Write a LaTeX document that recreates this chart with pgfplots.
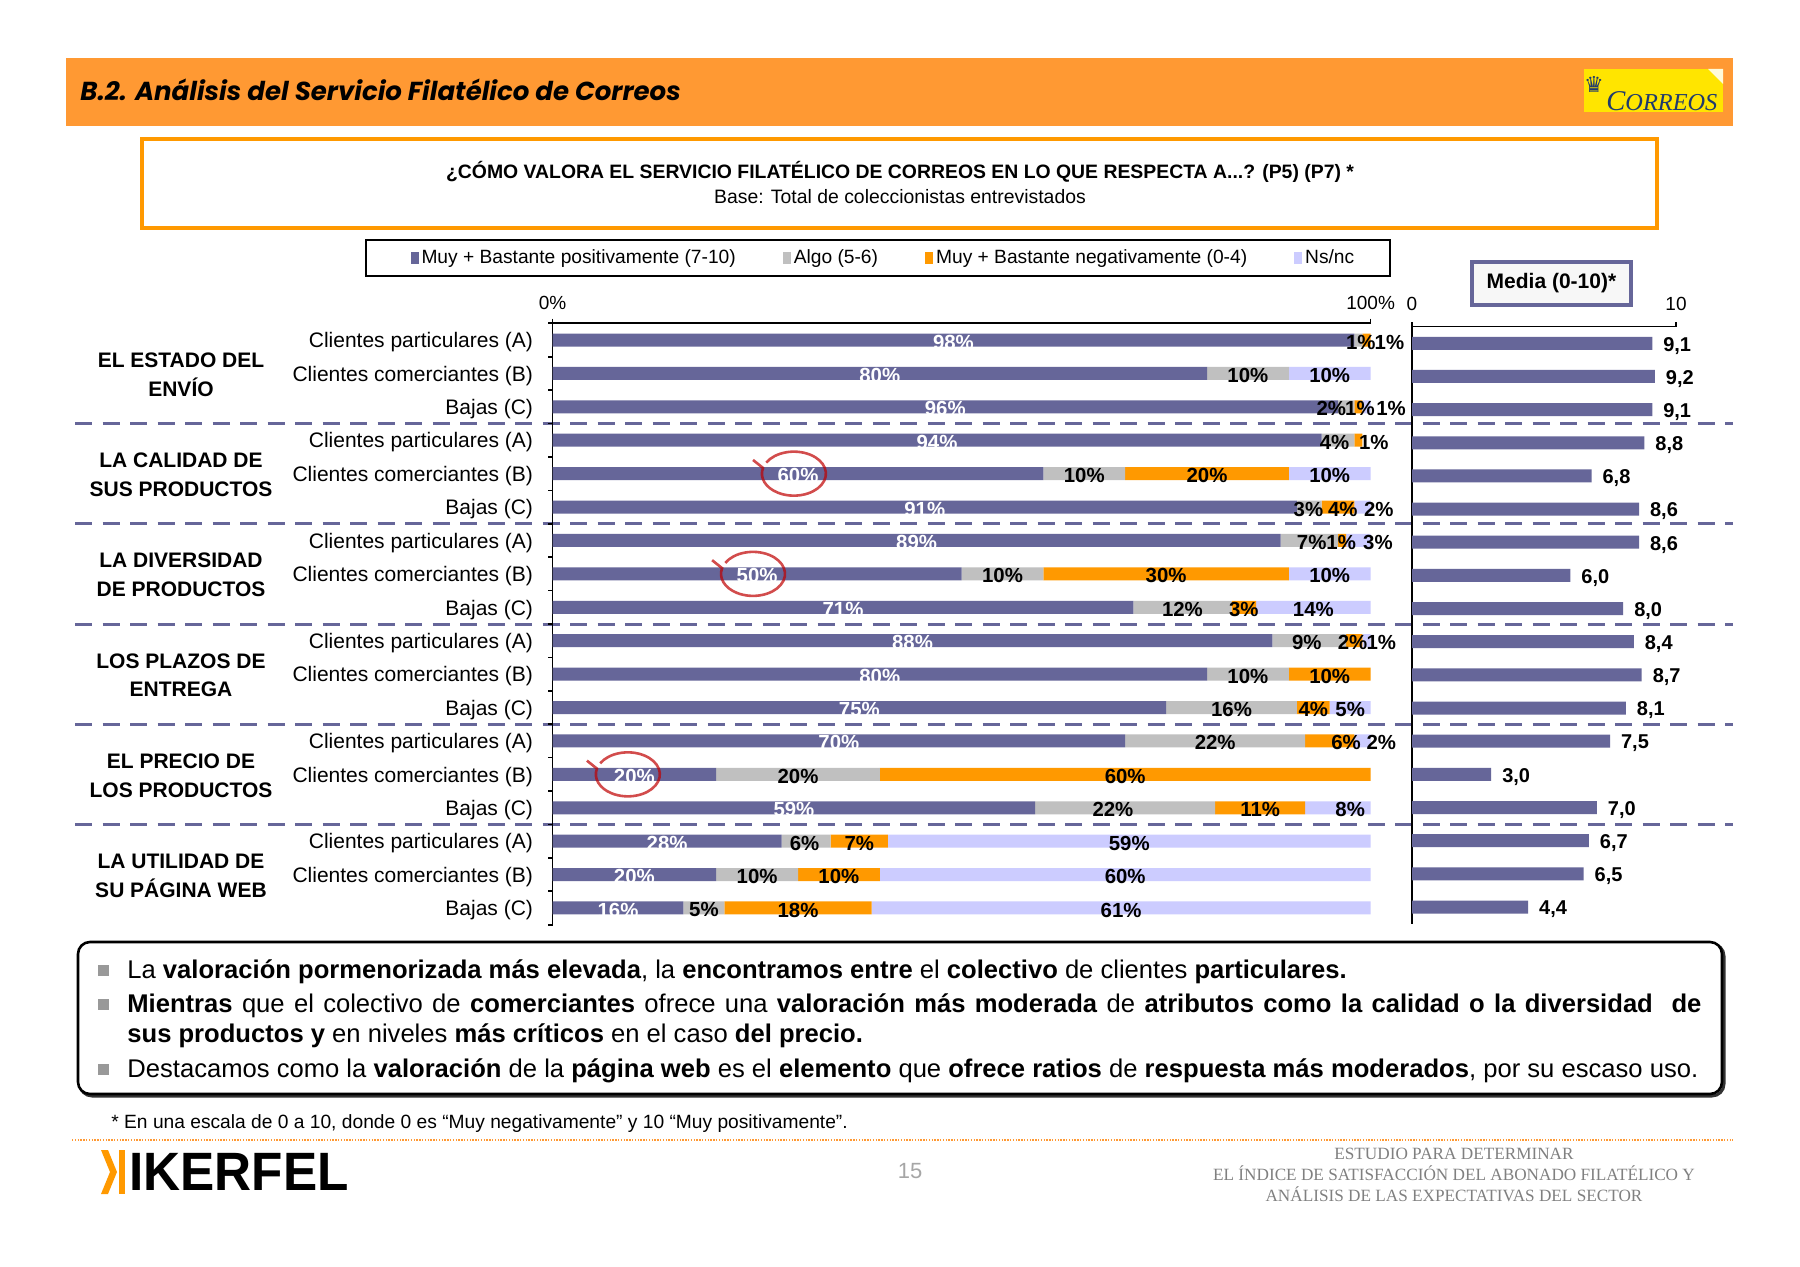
\documentclass[border=0pt]{standalone}
\usepackage{fontspec}
\setmainfont{Liberation Sans}
\newfontfamily\headfont{Poppins}
\newfontfamily\serifft{Liberation Serif}
\newfontfamily\symfont{DejaVu Sans}
\usepackage{pgfplots}
\pgfplotsset{compat=1.18}
\definecolor{cpos}{HTML}{666699}
\definecolor{calgo}{HTML}{C0C0C0}
\definecolor{cneg}{HTML}{FF9900}
\definecolor{cns}{HTML}{CCCCFF}
\definecolor{hband}{HTML}{FF9933}
\definecolor{cyell}{HTML}{FFE500}
\definecolor{cblue}{HTML}{1F3A6E}
\newcommand{\fs}[2]{\fontsize{#1}{#2}\selectfont}
\tikzset{
  wl/.style={text=white, font=\bfseries\fs{10.2}{12}, inner sep=0pt, yshift=-1pt},
  bl/.style={text=black, font=\bfseries\fs{10.2}{12}, inner sep=0pt, yshift=-1pt},
  circ/.style={draw=red!75!black, opacity=0.7, line width=1.3pt},
}
\pgfplotsset{
  chartbox/.style={
    at={(276.3pt,-161.65pt)}, anchor=north west,
    scale only axis, width=409pt, height=300.7pt,
    xmin=0, xmax=100, ymin=-17.5, ymax=0.5, clip=false,
  },
}
\begin{document}
\begin{tikzpicture}
\begin{scope}[x=0.5pt,y=-0.5pt]
\path[use as bounding box, fill=white] (0,0) rectangle (1800,1267);
% header band
\fill[hband] (66,58) rectangle (1733,126);
\node[anchor=base west, inner sep=0pt, font=\headfont\bfseries\itshape\fs{13}{15}] at (80,101) {B.2. Análisis del Servicio Filatélico de Correos};
% Correos logo
\fill[cyell] (1584,69) rectangle (1723,112);
\fill[white!85!cyell] (1708,69) -- (1723,69) -- (1723,84) -- cycle;
\node[anchor=west, inner sep=0pt, text=cblue, font=\serifft\itshape\fs{14.3}{16}] at (1606,101) {C\scalebox{0.85}{ORREOS}};
\node[text=cblue, inner sep=0pt, font=\symfont\fs{11}{12}] at (1594,84) {♛};
% question box
\draw[cneg, line width=1.8pt] (142,139) rectangle (1657,228);
\node[font=\bfseries\fs{9.7}{11}] at (900,172) {¿CÓMO VALORA EL SERVICIO FILATÉLICO DE CORREOS EN LO QUE RESPECTA A...? (P5) (P7) *};
\node[font=\fs{9.7}{11}] at (900,197) {Base: Total de coleccionistas entrevistados};
% legend box
\draw[black, line width=1.2pt] (366,240) rectangle (1390,276);
% media box
\draw[cpos, line width=2pt, fill=gray!6] (1472,262) rectangle (1631,305);
\node[font=\bfseries\fs{10.5}{12}] at (1551.5,283.5) {Media (0-10)*};
% group labels
\node[align=center, font=\bfseries\fs{10.5}{14.35}] at (181,374.5) {EL ESTADO DEL\\ENVÍO};
\node[align=center, font=\bfseries\fs{10.5}{14.35}] at (181,474.7) {LA CALIDAD DE\\SUS PRODUCTOS};
\node[align=center, font=\bfseries\fs{10.5}{14.35}] at (181,575.0) {LA DIVERSIDAD\\DE PRODUCTOS};
\node[align=center, font=\bfseries\fs{10.5}{14.35}] at (181,675.2) {LOS PLAZOS DE\\ENTREGA};
\node[align=center, font=\bfseries\fs{10.5}{14.35}] at (181,775.5) {EL PRECIO DE\\LOS PRODUCTOS};
\node[align=center, font=\bfseries\fs{10.5}{14.35}] at (181,875.7) {LA UTILIDAD DE\\SU PÁGINA WEB};
% dashed separators
\foreach \yy in {423.5,523.8,624.0,724.3,824.5}
  \draw[cpos, line width=1.5pt, dash pattern=on 8.5pt off 5.25pt] (75,\yy) -- (1733,\yy);
% bottom box
\draw[black!80, line width=1.5pt, rounded corners=6pt] (80,944) rectangle (1724,1096);
\draw[black, line width=1.3pt, rounded corners=6pt, fill=white] (78,942) rectangle (1722,1094);
\foreach \yy in {978,1012,1077}
  \fill[gray!80] (98,\yy-13) rectangle (109,\yy-2);
\node[anchor=base west, inner sep=0pt, font=\fs{12.8}{15}] at (127,978) {La \textbf{valoración pormenorizada más elevada}, la \textbf{encontramos entre} el \textbf{colectivo} de clientes \textbf{particulares.}};
\node[anchor=base west, inner sep=0pt, font=\fs{12.8}{15}] at (127,1012) {\makebox[787pt][s]{\textbf{Mientras} que el colectivo de \textbf{comerciantes} ofrece una \textbf{valoración más moderada} de \textbf{atributos como la calidad o la diversidad\ \ de}}};
\node[anchor=base west, inner sep=0pt, font=\fs{12.8}{15}] at (127,1042) {\textbf{sus productos y} en niveles \textbf{más críticos} en el caso \textbf{del precio.}};
\node[anchor=base west, inner sep=0pt, font=\fs{12.8}{15}] at (127,1077) {Destacamos como la \textbf{valoración} de la \textbf{página web} es el \textbf{elemento} que \textbf{ofrece ratios} de \textbf{respuesta más moderados}, por su escaso uso.};
% footnote
\node[anchor=base west, inner sep=0pt, font=\fs{9.6}{11}] at (111,1128) {* En una escala de 0 a 10, donde 0 es “Muy negativamente” y 10 “Muy positivamente”.};
% dotted line
\draw[hband, line width=1pt, dash pattern=on 0.7pt off 0.7pt] (72,1140) -- (1733,1140);
% IKERFEL logo
\fill[cneg] (101,1150) -- (108,1150) -- (117,1172) -- (108,1194) -- (101,1194) -- (110,1172) -- cycle;
\fill[cneg] (119,1150) rectangle (125,1194);
\node[anchor=west, inner sep=0pt, font=\bfseries\fs{27}{30}] at (129,1172) {\scalebox{0.95}[1]{IKERFEL}};
% page number
\node[text=gray!70, font=\fs{11}{13}] at (910,1171) {15};
% footer right
\node[align=center, text=gray, font=\serifft\fs{8.6}{10.5}] at (1454,1174.5) {ESTUDIO PARA DETERMINAR\\EL ÍNDICE DE SATISFACCIÓN DEL ABONADO FILATÉLICO Y\\ANÁLISIS DE LAS EXPECTATIVAS DEL SECTOR};
\end{scope}

% ---------- main stacked bar chart ----------
\begin{axis}[
  chartbox,
  xbar stacked, bar width=6.5pt,
  axis x line*=top, axis y line*=left,
  axis line style={line width=0.8pt, black},
  xtick={0,100}, xticklabels={0\%,100\%},
  xticklabel style={font=\fs{9.5}{11}, yshift=1pt},
  ytick={-17.5,-16.5,...,-0.5},
  yticklabels={Bajas (C),Clientes comerciantes (B),Clientes particulares (A),Bajas (C),Clientes comerciantes (B),Clientes particulares (A),Bajas (C),Clientes comerciantes (B),Clientes particulares (A),Bajas (C),Clientes comerciantes (B),Clientes particulares (A),Bajas (C),Clientes comerciantes (B),Clientes particulares (A),Bajas (C),Clientes comerciantes (B),Clientes particulares (A)},
  yticklabel style={font=\fs{10.5}{12}, yshift=7.2pt, xshift=-4pt},
  extra y ticks={0.5}, extra y tick labels={},
  tick align=outside, major tick length=2.3pt,
  tick style={black, line width=0.8pt},
  legend style={at={(0.405,1.1086)}, anchor=center, draw=none, fill=none, legend columns=4, font=\fs{9.6}{11}, /tikz/every even column/.append style={column sep=22pt}, nodes={inner xsep=1.5pt}},
  legend image code/.code={\fill[#1] (0pt,-3.2pt) rectangle (4pt,3.2pt);},
]
\addplot[fill=cpos, draw=none] coordinates {(98,0) (80,-1) (96,-2) (94,-3) (60,-4) (91,-5) (89,-6) (50,-7) (71,-8) (88,-9) (80,-10) (75,-11) (70,-12) (20,-13) (59,-14) (28,-15) (20,-16) (16,-17)};
\addlegendentry{Muy + Bastante positivamente (7-10)}
\addplot[fill=calgo, draw=none] coordinates {(1,0) (10,-1) (2,-2) (4,-3) (10,-4) (3,-5) (7,-6) (10,-7) (12,-8) (9,-9) (10,-10) (16,-11) (22,-12) (20,-13) (22,-14) (6,-15) (10,-16) (5,-17)};
\addlegendentry{Algo (5-6)}
\addplot[fill=cneg, draw=none] coordinates {(1,0) (0,-1) (1,-2) (1,-3) (20,-4) (4,-5) (1,-6) (30,-7) (3,-8) (2,-9) (10,-10) (4,-11) (6,-12) (60,-13) (11,-14) (7,-15) (10,-16) (18,-17)};
\addlegendentry{Muy + Bastante negativamente (0-4)}
\addplot[fill=cns, draw=none] coordinates {(0,0) (10,-1) (1,-2) (0,-3) (10,-4) (2,-5) (3,-6) (10,-7) (14,-8) (1,-9) (0,-10) (5,-11) (2,-12) (0,-13) (8,-14) (59,-15) (60,-16) (61,-17)};
\addlegendentry{Ns/nc}
\end{axis}

% ---------- overlay: data labels ----------
\begin{axis}[chartbox, hide axis]
\node[wl] at (axis cs:49,0) {98\%};
\node[bl] at (axis cs:98.8,0) {1\%};
\node[bl] at (axis cs:102.3,0) {1\%};
\node[wl] at (axis cs:40,-1) {80\%};
\node[bl] at (axis cs:85,-1) {10\%};
\node[bl] at (axis cs:95,-1) {10\%};
\node[wl] at (axis cs:48,-2) {96\%};
\node[bl] at (axis cs:95.2,-2) {2\%};
\node[bl] at (axis cs:98.7,-2) {1\%};
\node[bl] at (axis cs:102.5,-2) {1\%};
\node[wl] at (axis cs:47,-3) {94\%};
\node[bl] at (axis cs:95.6,-3) {4\%};
\node[bl] at (axis cs:100.4,-3) {1\%};
\node[wl] at (axis cs:30,-4) {60\%};
\node[bl] at (axis cs:65,-4) {10\%};
\node[bl] at (axis cs:80,-4) {20\%};
\node[bl] at (axis cs:95,-4) {10\%};
\node[wl] at (axis cs:45.5,-5) {91\%};
\node[bl] at (axis cs:92.4,-5) {3\%};
\node[bl] at (axis cs:96.6,-5) {4\%};
\node[bl] at (axis cs:101,-5) {2\%};
\node[wl] at (axis cs:44.5,-6) {89\%};
\node[bl] at (axis cs:92.8,-6) {7\%};
\node[bl] at (axis cs:96.4,-6) {1\%};
\node[bl] at (axis cs:100.9,-6) {3\%};
\node[wl] at (axis cs:25,-7) {50\%};
\node[bl] at (axis cs:55,-7) {10\%};
\node[bl] at (axis cs:75,-7) {30\%};
\node[bl] at (axis cs:95,-7) {10\%};
\node[wl] at (axis cs:35.5,-8) {71\%};
\node[bl] at (axis cs:77,-8) {12\%};
\node[bl] at (axis cs:84.5,-8) {3\%};
\node[bl] at (axis cs:93,-8) {14\%};
\node[wl] at (axis cs:44,-9) {88\%};
\node[bl] at (axis cs:92.2,-9) {9\%};
\node[bl] at (axis cs:97.8,-9) {2\%};
\node[bl] at (axis cs:101.3,-9) {1\%};
\node[wl] at (axis cs:40,-10) {80\%};
\node[bl] at (axis cs:85,-10) {10\%};
\node[bl] at (axis cs:95,-10) {10\%};
\node[wl] at (axis cs:37.5,-11) {75\%};
\node[bl] at (axis cs:83,-11) {16\%};
\node[bl] at (axis cs:93,-11) {4\%};
\node[bl] at (axis cs:97.5,-11) {5\%};
\node[wl] at (axis cs:35,-12) {70\%};
\node[bl] at (axis cs:81,-12) {22\%};
\node[bl] at (axis cs:97,-12) {6\%};
\node[bl] at (axis cs:101.3,-12) {2\%};
\node[wl] at (axis cs:10,-13) {20\%};
\node[bl] at (axis cs:30,-13) {20\%};
\node[bl] at (axis cs:70,-13) {60\%};
\node[wl] at (axis cs:29.5,-14) {59\%};
\node[bl] at (axis cs:68.5,-14) {22\%};
\node[bl] at (axis cs:86.5,-14) {11\%};
\node[bl] at (axis cs:97.5,-14) {8\%};
\node[wl] at (axis cs:14,-15) {28\%};
\node[bl] at (axis cs:30.8,-15) {6\%};
\node[bl] at (axis cs:37.5,-15) {7\%};
\node[bl] at (axis cs:70.5,-15) {59\%};
\node[wl] at (axis cs:10,-16) {20\%};
\node[bl] at (axis cs:25,-16) {10\%};
\node[bl] at (axis cs:35,-16) {10\%};
\node[bl] at (axis cs:70,-16) {60\%};
\node[wl] at (axis cs:8,-17) {16\%};
\node[bl] at (axis cs:18.5,-17) {5\%};
\node[bl] at (axis cs:30,-17) {18\%};
\node[bl] at (axis cs:69.5,-17) {61\%};
% hand-drawn circles
\draw[circ] (axis cs:29.5,-4) ++(150:16pt and 11pt) arc[start angle=150, end angle=-195, x radius=16pt, y radius=11pt] -- ++(-5pt,4pt);
\draw[circ] (axis cs:24.5,-7) ++(150:16pt and 11pt) arc[start angle=150, end angle=-195, x radius=16pt, y radius=11pt] -- ++(-5pt,4pt);
\draw[circ] (axis cs:9.2,-13) ++(150:16pt and 11pt) arc[start angle=150, end angle=-195, x radius=16pt, y radius=11pt] -- ++(-5pt,4pt);
\end{axis}

% ---------- media chart ----------
\begin{axis}[
  at={(706pt,-163.35pt)}, anchor=north west,
  scale only axis, width=132pt, height=298.45pt,
  xbar, bar width=6.5pt,
  xmin=0, xmax=10, ymin=-17.5, ymax=0.5,
  axis x line*=top, axis y line*=left,
  axis line style={line width=0.8pt, black},
  xtick={0,10}, xticklabels={0,10}, ytick=\empty,
  tick align=outside, major tick length=2.3pt,
  tick style={black, line width=0.8pt},
  xticklabel style={font=\fs{9.5}{11}, yshift=2pt},
  point meta=x,
  nodes near coords={\pgfmathprintnumber[fixed,fixed zerofill,precision=1,use comma,assume math mode=true]{\pgfplotspointmeta}},
  nodes near coords style={font=\bfseries\fs{10}{12}, xshift=2pt, yshift=-1.2pt},
  clip=false,
]
\addplot[fill=cpos, draw=none] coordinates {(9.1,0) (9.2,-1) (9.1,-2) (8.8,-3) (6.8,-4) (8.6,-5) (8.6,-6) (6.0,-7) (8.0,-8) (8.4,-9) (8.7,-10) (8.1,-11) (7.5,-12) (3.0,-13) (7.0,-14) (6.7,-15) (6.5,-16) (4.4,-17)};
\end{axis}
\end{tikzpicture}
\end{document}
